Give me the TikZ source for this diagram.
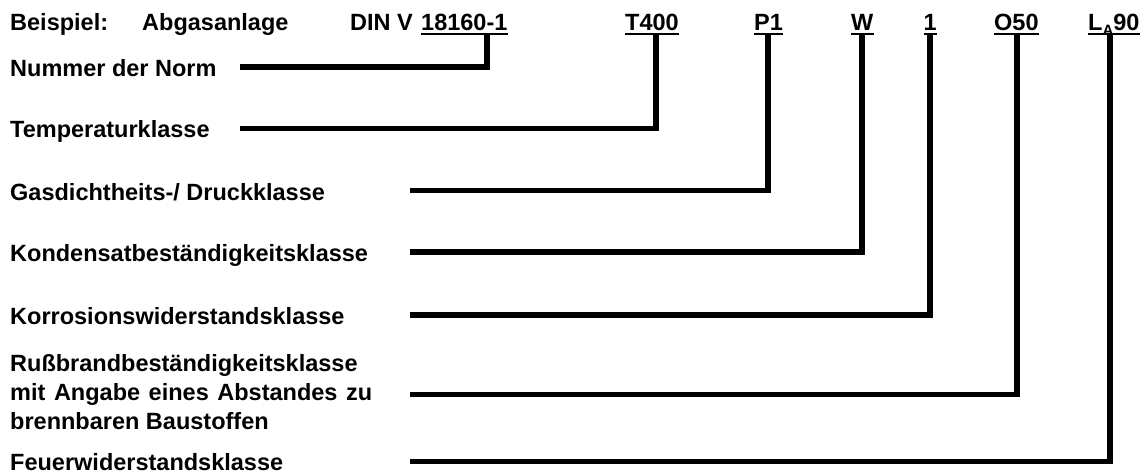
\documentclass[tikz,border=0pt]{standalone}
\usepackage{fontspec}
\setmainfont{Liberation Sans}
\begin{document}
\begin{tikzpicture}[x=1pt,y=-1pt,
  txt/.style={anchor=base west, inner sep=0pt, font=\fontsize{23.5}{29}\selectfont\bfseries},
  conn/.style={line width=5.5pt, line join=miter, line cap=butt},
  uline/.style={line width=2.5pt, line cap=butt}]
\useasboundingbox (0,0) rectangle (1144,474);
% header
\node[txt] (bsp) at (10,30.7) {Beispiel:};
\node[txt] (abg) at (142,30.7) {Abgasanlage};
\node[txt] (din) at (350,30.7) {DIN V};
\node[txt] (c1) at (421,30.7) {18160-1};
\node[txt] (c2) at (625,30.7) {T400};
\node[txt] (c3) at (754,30.7) {P1};
\node[txt] (c4) at (851,30.7) {W};
\node[txt] (c5) at (923.5,30.7) {1};
\node[txt] (c6) at (994,30.7) {O50};
\node[txt] (c7) at (1088,30.7) {L{\fontsize{15}{15}\selectfont\raisebox{-5pt}{A}}90};
\foreach \c in {c1,c2,c3,c4,c5,c6,c7}
  \draw[uline] ([yshift=-3.5pt]\c.base west) -- ([yshift=-3.5pt]\c.base east);
% left labels
\node[txt] (l1) at (10,76) {Nummer der Norm};
\node[txt] (l2) at (10,137.5) {Temperaturklasse};
\node[txt] (l3) at (10,200) {Gasdichtheits-/ Druckklasse};
\node[txt] (l4) at (10,261.5) {Kondensatbeständigkeitsklasse};
\node[txt] (l5) at (10,324) {Korrosionswiderstandsklasse};
\node[txt] (l6a) at (10,371) {Rußbrandbeständigkeitsklasse};
\node[txt] (l6b) at (10,400) {\makebox[362pt][s]{mit Angabe eines Abstandes zu}};
\node[txt] (l6c) at (10,429) {brennbaren Baustoffen};
\node[txt] (l7) at (10,470) {Feuerwiderstandsklasse};
% connector coordinates
\coordinate (s1) at (240,67);
\coordinate (s2) at (240,128.5);
\coordinate (s3) at (410,190.7);
\coordinate (s4) at (410,252);
\coordinate (s5) at (410,315);
\coordinate (s6) at (410,394.5);
\coordinate (s7) at (410,461.5);
\coordinate (t1) at (487,35);
\coordinate (t2) at (656,35);
\coordinate (t3) at (768,35);
\coordinate (t4) at (862,35);
\coordinate (t5) at (930,35);
\coordinate (t6) at (1017,35);
\coordinate (t7) at (1110,35);
\foreach \i in {1,...,7}
  \draw[conn] (s\i) -| (t\i);
\end{tikzpicture}
\end{document}
